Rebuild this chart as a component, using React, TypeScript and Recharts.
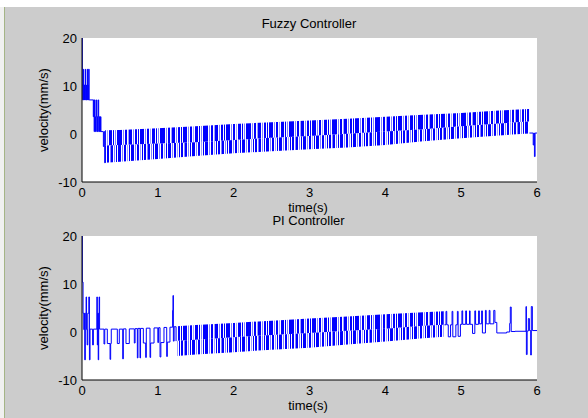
import React from 'react';
import { ComposedChart, Line, Area, XAxis, YAxis, CartesianGrid } from 'recharts';

// ---- Fuzzy controller: discrete step samples (start / end) ----
const fuzzyStartT = [0, 0.004, 0.01, 0.016, 0.018, 0.022, 0.026, 0.03, 0.034, 0.04, 0.044, 0.048, 0.052, 0.058, 0.062, 0.066, 0.07, 0.074, 0.078, 0.082, 0.088, 0.094, 0.149, 0.155, 0.16, 0.166, 0.172, 0.178, 0.184, 0.19, 0.196, 0.202, 0.208, 0.214, 0.22, 0.226, 0.232, 0.238, 0.244, 0.25, 0.282, 0.292, 0.3, 0.305];
const fuzzyStartV = [20, 10.2, 7.1, 10.2, 13.5, 7.1, 10.2, 7.1, 10.2, 7.1, 13.5, 10.2, 7.1, 10.2, 7.1, 10.2, 13.5, 7.1, 10.2, 7.1, 13.5, 7.1, 3.6, 7.1, 0.5, 7.1, 3.6, 0.5, 3.6, 7.1, 0.5, 3.6, 0.5, 7.1, 3.6, 0.5, 3.6, 0.5, 3.6, 0.5, -2.6, 0.5, -6.0, -2.4];
const fuzzyEndT = [5.9, 5.95, 5.958, 5.966, 5.975, 6.0];
const fuzzyEndV = [0.2, -2.3, 0.2, -4.7, 0.2, 0.2];

// ---- Fuzzy controller: chattering band envelopes ----
const fuzzyBandT = [0.305, 0.5, 1.0, 1.5, 2.0, 2.5, 3.0, 3.5, 4.0, 4.5, 5.0, 5.5, 5.895];
const fuzzyTop = [0.8, 0.85, 1.2, 1.6, 2.1, 2.45, 2.8, 3.2, 3.6, 4.0, 4.4, 4.9, 5.2];
const fuzzyMid = [-2.4, -2.3, -2.0, -1.7, -1.25, -0.8, -0.4, 0.05, 0.5, 1.0, 1.6, 2.2, 2.6];
const fuzzyBot = [-6.0, -5.8, -5.2, -4.6, -4.0, -3.6, -3.2, -2.8, -2.3, -1.5, -0.9, -0.3, 0.1];

// ---- PI controller: discrete step samples (start / end) ----
const piStartT = [0, 0.004, 0.014, 0.024, 0.03, 0.036, 0.044, 0.054, 0.06, 0.068, 0.076, 0.09, 0.098, 0.106, 0.14, 0.15, 0.196, 0.202, 0.208, 0.214, 0.22, 0.226, 0.232, 0.29, 0.3, 0.334, 0.37, 0.378, 0.386, 0.466, 0.492, 0.537, 0.545, 0.58, 0.624, 0.69, 0.7, 0.73, 0.738, 0.765, 0.772, 0.809, 0.84, 0.848, 0.897, 0.905, 0.95, 1.0, 1.01, 1.029, 1.04, 1.081, 1.117, 1.125, 1.16, 1.195, 1.2, 1.205, 1.215, 1.24];
const piStartV = [20, 10.4, 3.9, 0.5, 3.9, -5.8, 3.9, 7.3, 0.5, -2.7, 3.9, 7.3, -5.8, 0.6, -2.7, 0.6, 7.3, -2.7, 3.9, -5.8, 3.9, 7.3, 0.6, -2.5, 0.6, -2.4, -5.7, -2.4, 0.6, -2.4, 0.6, -5.6, 0.65, -2.4, 0.65, -2.3, 0.7, -5.4, 0.75, -5.4, 0.75, -2.3, -5.3, 0.8, -5.3, -2.3, 0.85, -2.2, 0.9, -5.2, -2.2, 0.95, -5.1, -2.1, 1.0, 4.5, 7.6, -1.9, 1.1, -1.9];
const piEndT = [4.78, 4.8, 4.81, 4.83, 4.86, 4.88, 4.89, 4.93, 4.95, 4.96, 4.99, 5.01, 5.02, 5.06, 5.07, 5.11, 5.118, 5.15, 5.18, 5.19, 5.23, 5.24, 5.27, 5.28, 5.32, 5.33, 5.37, 5.38, 5.43, 5.445, 5.47, 5.6, 5.64, 5.648, 5.66, 5.71, 5.855, 5.86, 5.87, 5.886, 5.9, 5.917, 5.925, 5.939, 6.0];
const piEndV = [1.5, 4.3, 1.5, -1.0, 1.5, 4.3, -1.0, 1.5, 4.3, -0.9, 1.6, 4.4, 1.6, 4.4, 1.6, 4.4, 1.6, -0.3, 4.4, 1.6, 4.4, 1.7, 4.4, -0.2, 4.5, 1.7, 4.5, 1.7, 4.5, 2.0, -0.2, 0.0, 1.8, 5.2, 0.1, 0.15, 5.3, -4.7, 0.2, 2.8, 0.3, -4.8, 5.3, 0.3, 0.3];

// ---- PI controller: chattering band envelopes ----
const piBandT = [1.25, 1.5, 2.0, 2.5, 3.0, 3.5, 4.0, 4.5, 4.77];
const piTop = [1.2, 1.45, 1.9, 2.35, 2.8, 3.25, 3.7, 4.1, 4.3];
const piMid = [-1.8, -1.6, -1.1, -0.6, -0.2, 0.25, 0.7, 1.3, 1.5];
const piBot = [-5.0, -4.7, -4.2, -3.7, -3.3, -2.6, -2.0, -1.3, -1.0];

const xTicks = [0, 1, 2, 3, 4, 5, 6];
const yTicks = [-10, 0, 10, 20];

type Row = { t: number; v?: number; up?: [number, number]; lo?: [number, number] };

function buildRows(stepT: number[][], stepV: number[][], bandT: number[], top: number[], mid: number[], bot: number[]): Row[] {
  const rows: Row[] = [];
  stepT.forEach((ts, k) => ts.forEach((t, i) => rows.push({ t, v: stepV[k][i] })));
  bandT.forEach((t, i) => rows.push({ t, up: [mid[i], top[i]], lo: [bot[i], mid[i]] }));
  return rows.sort((a, b) => a.t - b.t);
}

const fuzzyRows = buildRows([fuzzyStartT, fuzzyEndT], [fuzzyStartV, fuzzyEndV], fuzzyBandT, fuzzyTop, fuzzyMid, fuzzyBot);
const piRows = buildRows([piStartT, piEndT], [piStartV, piEndV], piBandT, piTop, piMid, piBot);

const BLUE = '#0000ff';
const LIGHT = '#8080ff';
const PALE = '#a0a0ff';
const FONT = '"Liberation Sans", Arial, Helvetica, sans-serif';
const tickFont = { fontSize: 13, fill: '#000', fontFamily: FONT };

// stripe layout of the chattering (x offset, width, colour), irregular on purpose
const upBars: [number, number, string][] = [
  [0, 3, BLUE], [4, 1, LIGHT], [6, 2, BLUE], [9, 1, BLUE], [11, 4, BLUE], [16, 1, LIGHT], [18, 2, BLUE], [21, 1, PALE],
  [23, 3, BLUE], [27, 1, BLUE], [29, 1, LIGHT], [31, 5, BLUE], [37, 1, LIGHT], [39, 2, BLUE], [42, 1, PALE],
];
const loBars: [number, number, string][] = [
  [0, 2, BLUE], [3, 1, LIGHT], [5, 1, BLUE], [7, 3, BLUE], [11, 1, LIGHT], [13, 2, BLUE], [16, 1, PALE], [18, 1, BLUE],
  [20, 3, BLUE], [24, 1, LIGHT], [26, 2, BLUE], [29, 1, PALE], [31, 1, BLUE], [33, 2, BLUE], [36, 1, LIGHT],
];

function Stripes({ id, period, bars }: { id: string; period: number; bars: [number, number, string][] }) {
  return (
    <pattern id={id} patternUnits="userSpaceOnUse" width={period} height={10}>
      {bars.map(([x, w, c], i) => (
        <rect key={i} x={x} y={0} width={w} height={10} fill={c} />
      ))}
    </pattern>
  );
}

function Panel({ rows, pid, height, margin }: { rows: Row[]; pid: string; height: number; margin: any }) {
  return (
    <ComposedChart width={588} height={height} data={rows} margin={margin}>
      <defs>
        <Stripes id={`${pid}Up`} period={43} bars={upBars} />
        <Stripes id={`${pid}Lo`} period={37} bars={loBars} />
      </defs>
      <CartesianGrid fill="#ffffff" horizontal={false} vertical={false} stroke="none" />
      <XAxis dataKey="t" type="number" domain={[0, 6]} ticks={xTicks} allowDataOverflow height={20}
        tickSize={0} tickMargin={6} tickLine={false} axisLine={{ stroke: '#000' }} tick={tickFont} />
      <XAxis xAxisId="bm" type="number" domain={[0, 6]} ticks={xTicks} orientation="bottom" mirror height={0}
        tick={false} tickSize={4} tickLine={{ stroke: '#000' }} axisLine={false} />
      <XAxis xAxisId="tm" type="number" domain={[0, 6]} ticks={xTicks} orientation="top" mirror height={0}
        tick={false} tickSize={4} tickLine={{ stroke: '#000' }} axisLine={{ stroke: '#000' }} />
      <YAxis type="number" domain={[-10, 20]} ticks={yTicks} allowDataOverflow width={30}
        tickSize={0} tickMargin={5} tickLine={false} axisLine={{ stroke: '#000' }} tick={tickFont} />
      <YAxis yAxisId="lm" type="number" domain={[-10, 20]} ticks={yTicks} orientation="left" mirror width={0}
        tick={false} tickSize={4} tickLine={{ stroke: '#000' }} axisLine={false} />
      <YAxis yAxisId="rm" type="number" domain={[-10, 20]} ticks={yTicks} orientation="right" mirror width={0}
        tick={false} tickSize={4} tickLine={{ stroke: '#000' }} axisLine={{ stroke: '#000' }} />
      <Area dataKey="up" type="linear" stroke="none" fill={`url(#${pid}Up)`} fillOpacity={1}
        connectNulls={false} activeDot={false} isAnimationActive={false} />
      <Area dataKey="lo" type="linear" stroke="none" fill={`url(#${pid}Lo)`} fillOpacity={1}
        connectNulls={false} activeDot={false} isAnimationActive={false} />
      <Line dataKey="v" type="stepAfter" stroke={BLUE} strokeWidth={1} dot={false} activeDot={false}
        connectNulls={false} isAnimationActive={false} />
    </ComposedChart>
  );
}

export default function App() {
  const txt = { fontFamily: FONT, fontSize: 13, fill: '#000' };
  return (
    <div style={{ position: 'absolute', left: 0, top: 0, width: 588, height: 418, background: '#cccccc', overflow: 'hidden' }}>
      <div style={{ position: 'absolute', left: 0, top: 0, width: 588, height: 7, background: '#ffffff' }} />
      <div style={{ position: 'absolute', left: 0, top: 7, width: 4, height: 411, background: '#f0f0f0' }} />
      <div style={{ position: 'absolute', left: 4, top: 7, width: 1, height: 411, background: '#a4b486' }} />
      <div style={{ position: 'absolute', left: 0, top: 0 }}>
        <Panel rows={fuzzyRows} pid="fz" height={210} margin={{ top: 38, right: 51, bottom: 8, left: 52 }} />
      </div>
      <div style={{ position: 'absolute', left: 0, top: 210 }}>
        <Panel rows={piRows} pid="pi" height={208} margin={{ top: 26, right: 51, bottom: 18, left: 52 }} />
      </div>
      <svg width={588} height={418} style={{ position: 'absolute', left: 0, top: 0, pointerEvents: 'none' }}>
        <text x={309} y={27.5} textAnchor="middle" {...txt}>Fuzzy Controller</text>
        <text x={308} y={211.5} textAnchor="middle" {...txt}>time(s)</text>
        <text x={308.5} y={225} textAnchor="middle" {...txt}>PI Controller</text>
        <text x={308} y={410} textAnchor="middle" {...txt}>time(s)</text>
        <text x={48} y={110} textAnchor="middle" transform="rotate(-90 48 110)" {...txt}>velocity(mm/s)</text>
        <text x={48} y={308} textAnchor="middle" transform="rotate(-90 48 308)" {...txt}>velocity(mm/s)</text>
      </svg>
    </div>
  );
}
